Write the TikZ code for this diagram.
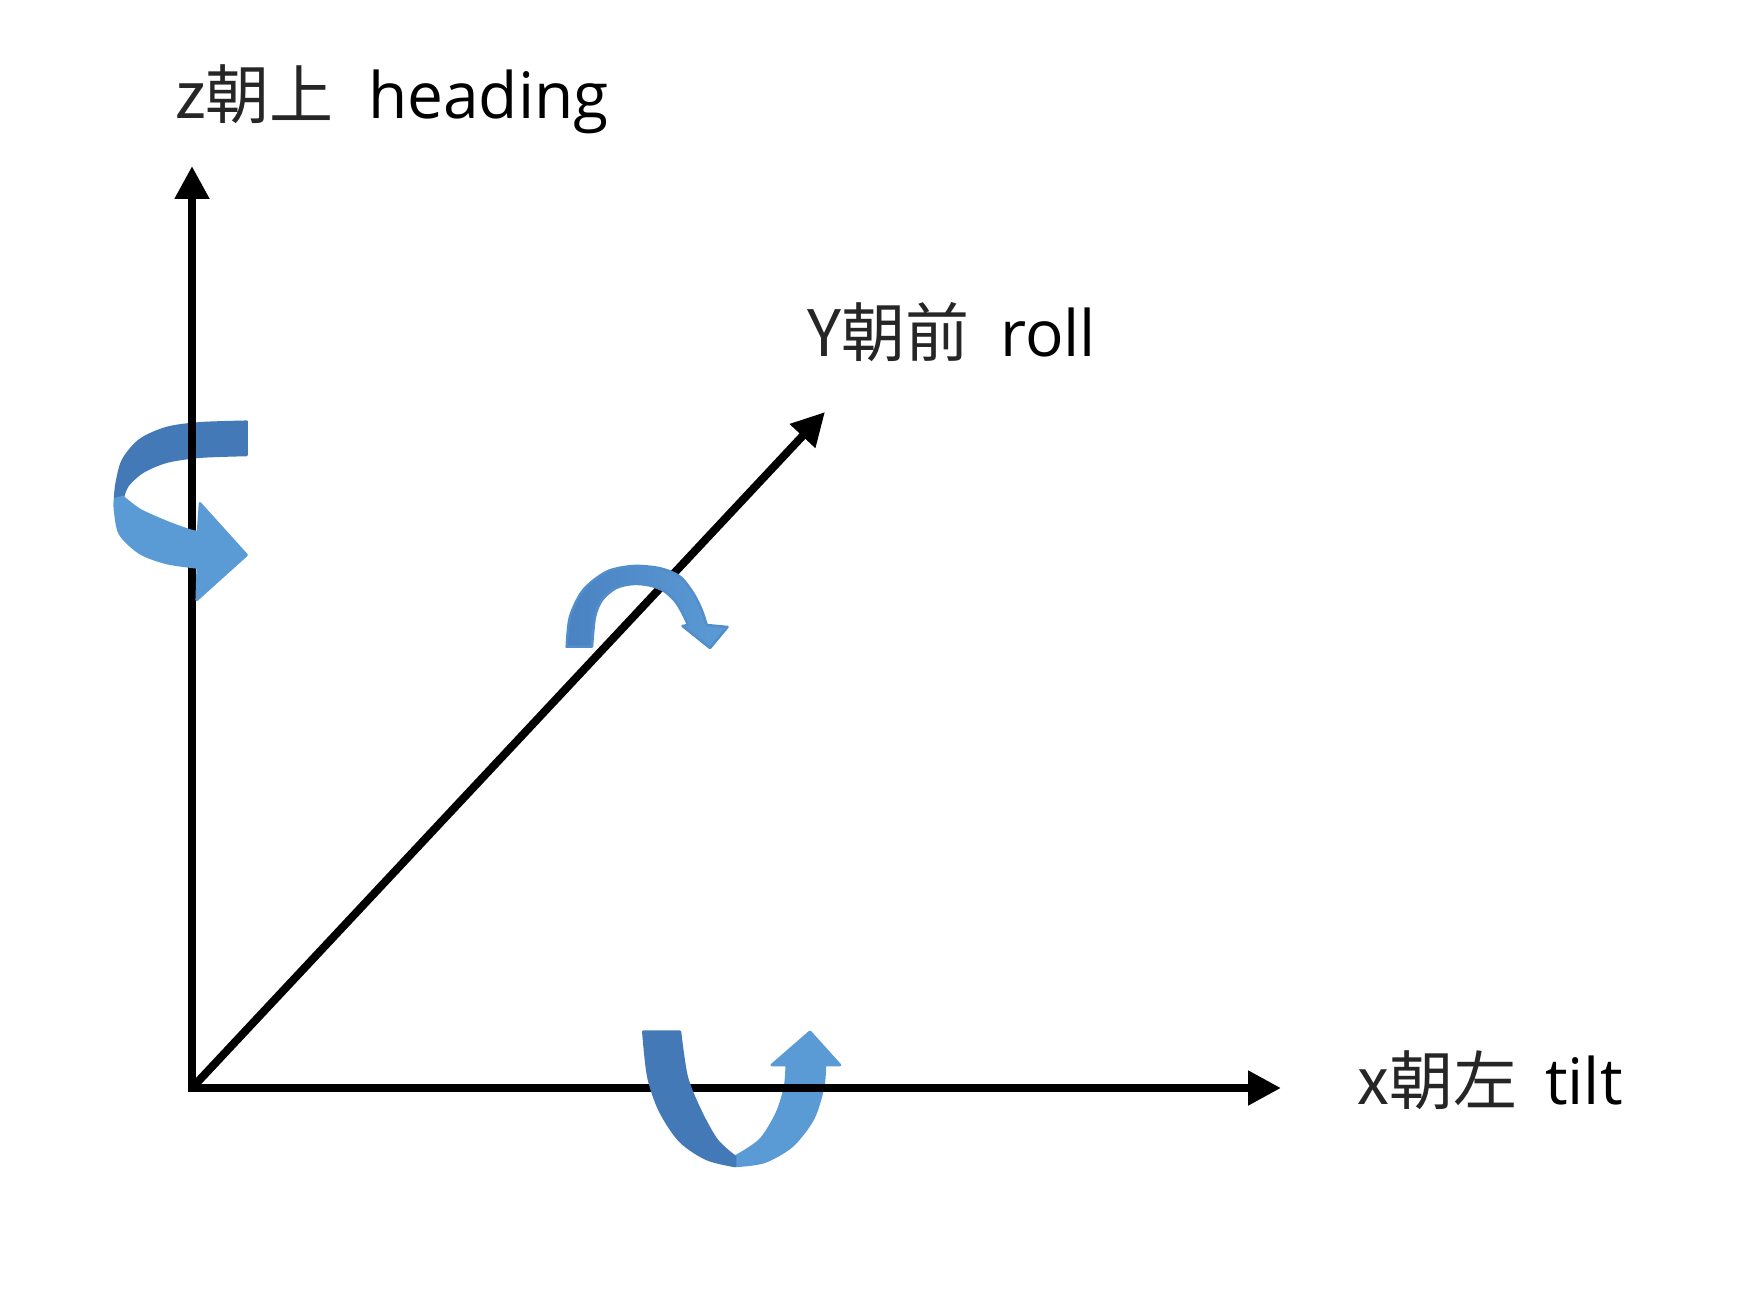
\documentclass[tikz,border=0pt]{standalone}
\usepackage{fontspec}
\setmainfont{Open Sans}
\newfontfamily\cjk{Noto Sans CJK SC}
\usetikzlibrary{arrows.meta}
\definecolor{dkblue}{RGB}{66,121,182}
\definecolor{ltblue}{RGB}{91,155,213}
\definecolor{midblue}{RGB}{74,130,194}
\tikzset{
  axis/.style={line width=8pt, -{Triangle[length=33pt,width=33pt]}},
  lbl/.style={inner sep=0pt, anchor=base west, font=\fontsize{64pt}{70pt}\selectfont},
  ribbon/.style={fill=#1, draw=#1, line width=2.5pt, line join=round},
}
\newcommand{\cjkpart}[2]{\makebox[#1][l]{\color{black!85}\cjk #2}}
\begin{document}
\begin{tikzpicture}[x=1pt,y=-1pt]
\useasboundingbox (0,0) rectangle (1762,1292);
\fill[white] (0,0) rectangle (1762,1292);

\coordinate (O) at (192,1088);
\coordinate (Ostart) at (192,1092);
\coordinate (Xstart) at (188,1088);
\coordinate (Ztip) at (192,166);
\coordinate (Xtip) at (1281,1088);
\coordinate (Ytip) at (825,412);

% tilt arrow, back (light) arm
\path[ribbon=ltblue] (735,1156.7) -- plot[smooth] coordinates {(735,1156.7) (760,1140) (776.7,1113.3) (785,1086.7) (786.7,1065)}
  -- (771.7,1065) -- (810,1031.7) -- (840,1065) -- (825,1065)
  -- plot[smooth] coordinates {(825,1065) (823,1088) (813,1119) (792,1146) (764,1162) (735,1166)} -- cycle;

% heading arrow, back (dark) part
\path[ribbon=dkblue] (246.7,421.7) -- (246.7,455)
  -- plot[smooth] coordinates {(246.7,455) (200,456.7) (166.7,461.7) (143,471.7) (128,485) (123,497)}
  -- (115,499)
  -- plot[smooth] coordinates {(115,499) (116.7,483) (123,460) (140,440) (166.7,428) (200,423.3) (246.7,421.7)} -- cycle;

% axes
\draw[axis] (Ostart) -- (Ztip);
\draw[axis] (Xstart) -- (Xtip);
\draw[axis] (O) -- (Ytip);

% heading arrow, front (light) part
\path[ribbon=ltblue] (123,497)
  -- plot[smooth] coordinates {(123,497) (140,510) (166.7,522) (190,530.5) (198,532)}
  -- (200,503.3) -- (246.7,555) -- (196.7,600) -- (197.7,567.5)
  -- plot[smooth] coordinates {(197.7,567.5) (166.7,563) (140,553) (120,534) (115,510) (115,499)} -- cycle;

% tilt arrow, front (dark) arm
\path[ribbon=dkblue] (643.3,1031.7) -- (680,1031.7)
  -- plot[smooth] coordinates {(680,1031.7) (686.7,1076.7) (700,1110) (716.7,1140) (735,1156.7)}
  -- (735,1166)
  -- plot[smooth] coordinates {(735,1166) (706.7,1159) (680,1141) (660,1111) (648.3,1076.7) (643.3,1031.7)} -- cycle;

% roll arrow
\shadedraw[left color=midblue, right color=ltblue, draw=midblue!50!ltblue, line width=2.5pt, line join=round] (566.7,646.7)
  -- plot[smooth] coordinates {(566.7,646.7) (570,616.7) (583.3,590) (606.7,571.7) (633.3,566) (660,568.3) (680,576.7) (693.3,593.3) (701.7,610) (706.7,625)}
  -- (727.5,627) -- (710,648) -- (682.5,626) -- (688,625)
  -- plot[smooth] coordinates {(688,625) (683,614) (675,601) (664,591) (650,585.5) (633.3,584) (616,588) (602,600) (595,617) (592,646.7)}
  -- cycle;

% labels
\node[lbl] (zlabel) at (175,119) {\cjkpart{193pt}{z朝上}heading};
\node[lbl] (ylabel) at (807,356) {\cjkpart{193pt}{Y朝前}roll};
\node[lbl] (xlabel) at (1357,1104) {\cjkpart{188pt}{x朝左}tilt};
\end{tikzpicture}
\end{document}
